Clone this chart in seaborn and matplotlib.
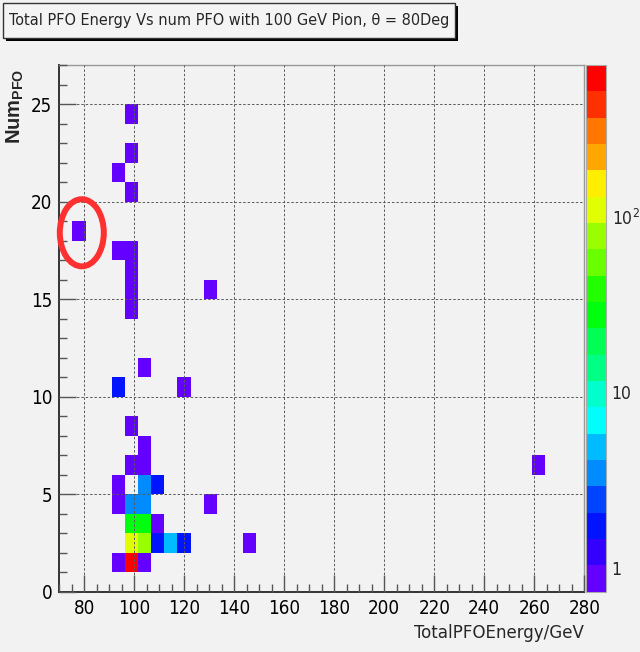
import colorsys

import numpy as np
import pandas as pd
import matplotlib
matplotlib.use("Agg")
import matplotlib.pyplot as plt
from matplotlib.colors import ListedColormap, LogNorm
from matplotlib.patches import Rectangle, Ellipse
from matplotlib.ticker import MultipleLocator, LogLocator, NullFormatter
import seaborn as sns

# ---- histogram contents: bin centre energy (GeV), number of PFOs, events ----
energy = [99.4, 99.4, 94.1, 99.4, 78.4,
          94.1, 99.4, 99.4, 99.4, 130.9, 99.4,
          104.6, 94.1, 120.4, 99.4, 104.6,
          99.4, 104.6, 261.6,
          94.1, 104.6, 109.9,
          94.1, 99.4, 104.6, 130.9,
          99.4, 104.6, 109.9,
          99.4, 104.6, 109.9, 115.1, 120.4, 146.6,
          94.1, 99.4, 104.6]
npfo = [24, 22, 21, 20, 18,
        17, 17, 16, 15, 15, 14,
        11, 10, 10, 8, 7,
        6, 6, 6,
        5, 5, 5,
        4, 4, 4, 4,
        3, 3, 3,
        2, 2, 2, 2, 2, 2,
        1, 1, 1]
events = [1, 1, 1, 1, 1,
          1, 1, 1, 1, 1, 1,
          1, 2, 1, 1, 1,
          1, 1, 1,
          1, 3, 2,
          1, 3, 4, 1,
          28, 30, 1,
          110, 80, 2, 5, 2, 1,
          1, 730, 1]

# histogram binning
x_lo, x_hi, nx = 70, 280, 40
y_lo, y_hi, ny = 0, 27, 27
z_max = 730
z_min = 0.001 * z_max

x_ticks = [80, 100, 120, 140, 160, 180, 200, 220, 240, 260, 280]
y_ticks = [0, 5, 10, 15, 20, 25]
z_ticks = [1, 10, 100]
z_tick_labels = ["1", "10", r"$10^{2}$"]

title = "Total PFO Energy Vs num PFO with 100 GeV Pion, \u03b8 = 80Deg"
x_label = "TotalPFOEnergy/GeV"

sns.set_theme(style="ticks")
plt.rcParams["font.family"] = ["DejaVu Sans"]
plt.rcParams["font.stretch"] = "condensed"
plt.rcParams["mathtext.fontset"] = "custom"
plt.rcParams["mathtext.rm"] = "DejaVu Sans"
plt.rcParams["mathtext.bf"] = "Liberation Sans:bold"

bg = "#f2f2f2"
W, H = 640, 652
fig = plt.figure(figsize=(W / 100, H / 100), dpi=100, facecolor=bg)

ax_l, ax_r, ax_t, ax_b = 59.3, 584.3, 65.0, 591.7
ax = fig.add_axes([ax_l / W, 1 - ax_b / H, (ax_r - ax_l) / W, (ax_b - ax_t) / H])
ax.set_facecolor(bg)

# 20-level violet-to-red rainbow palette (HLS hue scan)
levels = []
for j in range(20):
    p = int((j + 0.99) * 50 / 20)
    hue = 280 - (p + 1) * 5.6
    levels.append(colorsys.hls_to_rgb(hue / 360, 0.5, 1.0))
cmap = ListedColormap(levels)

df = pd.DataFrame({"energy": energy, "npfo": npfo, "events": events})
x_edges = np.linspace(x_lo, x_hi, nx + 1)
y_edges = np.linspace(y_lo, y_hi, ny + 1)
sns.histplot(data=df, x="energy", y="npfo", weights="events",
             bins=[x_edges, y_edges], cmap=cmap, ax=ax)
mesh = ax.collections[0]
mesh.set_norm(LogNorm(vmin=z_min, vmax=z_max))
mesh.set_edgecolor("none")
mesh.set_linewidth(0)

ax.set_xlim(x_lo, x_hi)
ax.set_ylim(y_lo, y_hi)
ax.set_xlabel("")
ax.set_ylabel("")

ax.xaxis.set_major_locator(plt.FixedLocator(x_ticks))
ax.xaxis.set_minor_locator(MultipleLocator(5))
ax.yaxis.set_major_locator(plt.FixedLocator(y_ticks))
ax.yaxis.set_minor_locator(MultipleLocator(1))
ax.set_axisbelow(False)
ax.grid(True, which="major", color="#5a5a5a", lw=0.7, ls=(0, (2.5, 2)))
ax.tick_params(which="both", direction="in", color="#555555", width=1,
               top=False, right=False, labelsize=13.5)
ax.tick_params(which="major", length=12, pad=5)
ax.tick_params(which="minor", length=6)
for t in ax.get_xticklabels() + ax.get_yticklabels():
    t.set_color("black")

for s in ("left", "bottom"):
    ax.spines[s].set_color("#333333")
    ax.spines[s].set_linewidth(1.4)
for s in ("top", "right"):
    ax.spines[s].set_color("#999999")
    ax.spines[s].set_linewidth(1.0)

# highlighted outlier
ax.add_patch(Ellipse((79.0, 18.4), width=17.6, height=3.44, fill=False,
                     ec="#ff3030", lw=4.3, clip_on=False, zorder=5))

# colour scale
cax = fig.add_axes([586 / W, 1 - ax_b / H, 20 / W, (ax_b - ax_t) / H])
cb = fig.colorbar(mesh, cax=cax)
cb.set_ticks(z_ticks)
cb.set_ticklabels(z_tick_labels)
cax.yaxis.set_minor_locator(LogLocator(base=10, subs=range(2, 10)))
cax.yaxis.set_minor_formatter(NullFormatter())
cax.tick_params(which="both", direction="in", color="#222222", width=1, right=True)
cax.tick_params(which="major", length=8, pad=4, labelsize=12.5)
cax.tick_params(which="minor", length=4)
cb.outline.set_edgecolor("#aaaaaa")
cb.outline.set_linewidth(0.8)

# axis titles
fig.text(15 / W, 1 - 106 / H, r"$\mathbf{Num}_{\mathbf{PFO}}$", rotation=90,
         ha="center", va="center", fontsize=14.5)
fig.text(ax_r / W, 1 - 633 / H, x_label, ha="right", va="center", fontsize=13.3)

# title box with drop shadow
fig.patches.append(Rectangle((6 / W, 1 - 41 / H), 452 / W, 35 / H,
                             transform=fig.transFigure, fc="black", ec="none"))
fig.patches.append(Rectangle((3 / W, 1 - 38 / H), 452 / W, 35 / H,
                             transform=fig.transFigure, fc="#f4f4f4",
                             ec="#333333", lw=1))
fig.text(229 / W, 1 - 21 / H, title, ha="center", va="center", fontsize=11.6)

fig.savefig("out.png", dpi=100, facecolor=bg)
